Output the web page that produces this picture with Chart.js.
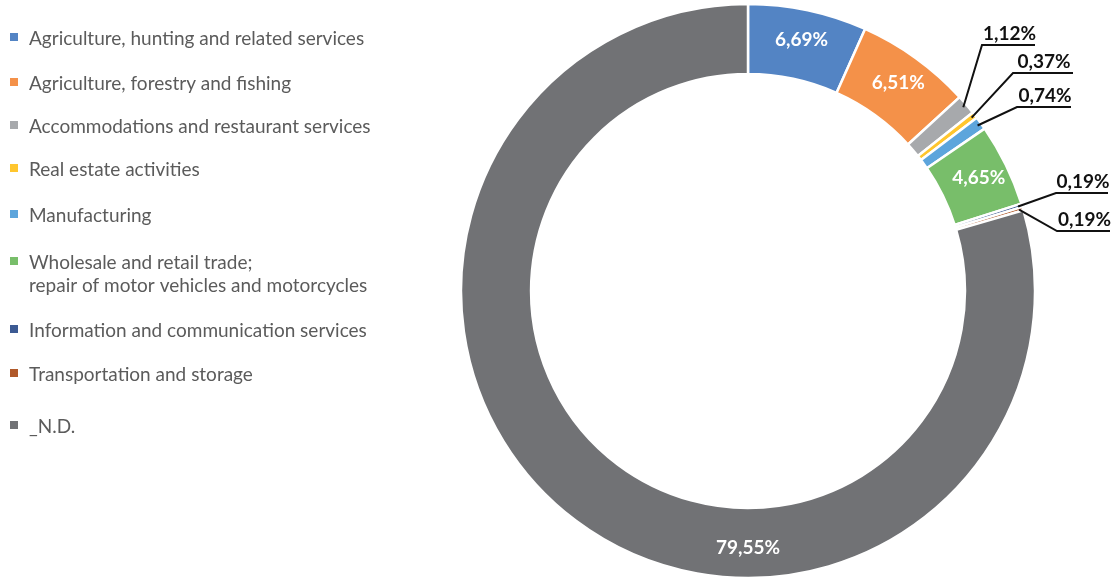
<!DOCTYPE html>
<html>
<head>
<meta charset="utf-8">
<script src="https://cdn.jsdelivr.net/npm/chart.js@4.4.1/dist/chart.umd.min.js"></script>
<style>
  html, body { margin: 0; padding: 0; background: #fff; }
  canvas { display: block; }
</style>
</head>
<body>
<canvas id="chart" width="1116" height="578"></canvas>
<script>
// data
const categories = [
    "Agriculture, hunting and related services",
    "Agriculture, forestry and fishing",
    "Accommodations and restaurant services",
    "Real estate activities",
    "Manufacturing",
    ["Wholesale and retail trade;", "repair of motor vehicles and motorcycles"],
    "Information and communication services",
    "Transportation and storage",
    "_N.D."
];
const shares = [6.69, 6.51, 1.12, 0.37, 0.74, 4.65, 0.19, 0.19, 79.55];
const shareLabels = ["6,69%", "6,51%", "1,12%", "0,37%", "0,74%", "4,65%", "0,19%", "0,19%", "79,55%"];
const colors = [
    "#5384C4", "#F49149", "#A7A9AC", "#FFC62E", "#5DA5DC",
    "#78BE6A", "#3C5A93", "#B0592A", "#717275"
];

// layout of the legend and of the labels
const legendRowY = [39, 84, 127, 170, 216, 263, 331, 375, 427];
const outsideLabels = {
    2: { x1: 982, x2: 1035, y: 45 },
    3: { x1: 1013, x2: 1073, y: 73 },
    4: { x1: 1017, x2: 1071, y: 107 },
    6: { x1: 1056, x2: 1108, y: 193 },
    7: { x1: 1057, x2: 1110, y: 231 }
};
// the big slice has its label at the bottom of the ring
const labelAngle = { 8: Math.PI / 2 };

const legendPlugin = {
    id: "sideLegend",
    afterDraw(chart) {
        const ctx = chart.ctx;
        ctx.save();
        ctx.font = "19px Lato";
        ctx.textBaseline = "middle";
        ctx.textAlign = "left";
        categories.forEach((label, i) => {
            const y = legendRowY[i];
            ctx.fillStyle = colors[i];
            ctx.fillRect(10, y - 6, 8, 8);
            ctx.fillStyle = "#5b5b5b";
            const lines = Array.isArray(label) ? label : [label];
            lines.forEach((line, j) => ctx.fillText(line, 29, y + j * 23));
        });
        ctx.restore();
    }
};

const valuePlugin = {
    id: "sliceValues",
    afterDatasetsDraw(chart) {
        const ctx = chart.ctx;
        const arcs = chart.getDatasetMeta(0).data;
        ctx.save();
        ctx.font = "bold 19px Lato";
        ctx.textBaseline = "middle";
        ctx.textAlign = "center";
        arcs.forEach((arc, i) => {
            const p = arc.getProps(["x", "y", "startAngle", "endAngle", "innerRadius", "outerRadius"], true);
            const mid = (p.startAngle + p.endAngle) / 2;
            const out = outsideLabels[i];
            if (!out) {
                const a = labelAngle[i] !== undefined ? labelAngle[i] : mid;
                const r = p.innerRadius + (p.outerRadius - p.innerRadius) * 0.57;
                ctx.fillStyle = "#ffffff";
                ctx.fillText(shareLabels[i], p.x + Math.cos(a) * r, p.y + Math.sin(a) * r);
                return;
            }
            const r = p.outerRadius - 4;
            const sx = p.x + Math.cos(mid) * r;
            const sy = p.y + Math.sin(mid) * r;
            ctx.strokeStyle = "#111111";
            ctx.lineWidth = 2;
            ctx.beginPath();
            ctx.moveTo(sx, sy);
            ctx.lineTo(out.x1, out.y);
            ctx.lineTo(out.x2, out.y);
            ctx.stroke();
            ctx.fillStyle = "#111111";
            ctx.fillText(shareLabels[i], (out.x1 + out.x2) / 2 + 1, out.y - 11);
        });
        ctx.restore();
    }
};

new Chart(document.getElementById("chart"), {
    type: "doughnut",
    data: {
        labels: categories.map(c => Array.isArray(c) ? c.join(" ") : c),
        datasets: [{
            data: shares,
            backgroundColor: colors,
            borderColor: "#ffffff",
            borderWidth: 2.5
        }]
    },
    options: {
        responsive: false,
        animation: false,
        devicePixelRatio: 1,
        radius: 287,
        cutout: 216,
        layout: {
            padding: { left: 461, right: 81, top: 4, bottom: 0 }
        },
        plugins: {
            legend: { display: false },
            tooltip: { enabled: false }
        }
    },
    plugins: [legendPlugin, valuePlugin]
});
</script>
</body>
</html>
